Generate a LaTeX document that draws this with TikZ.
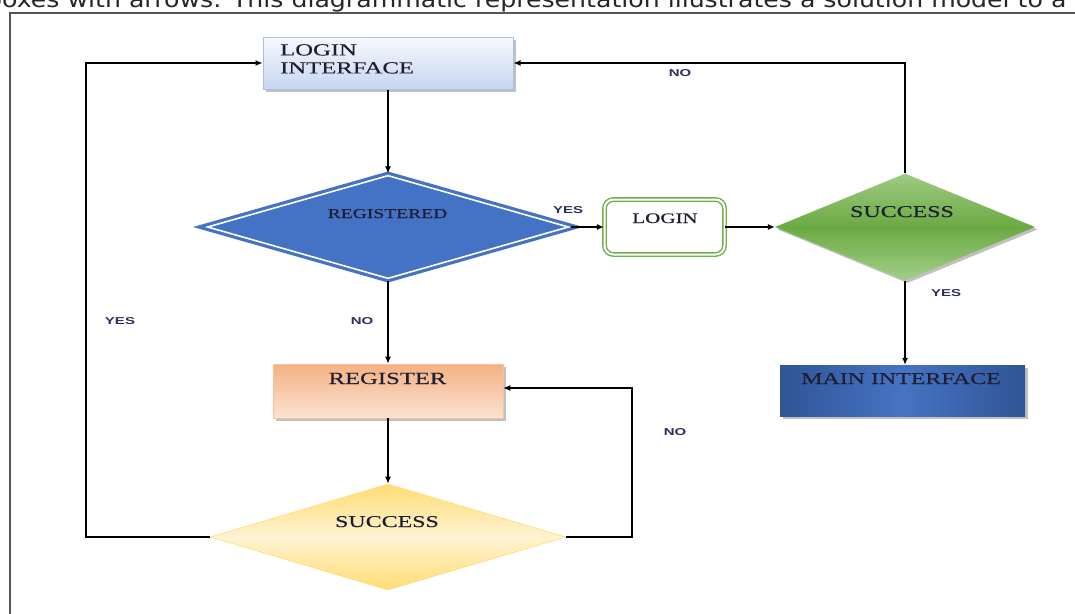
\documentclass[tikz,border=0pt]{standalone}
\usepackage{fontspec}
\setmainfont[FakeStretch=1.45,FakeBold=0.35]{Liberation Serif}
\newfontfamily\lblfont[FakeStretch=1.5]{Liberation Sans}
\newfontfamily\topfont[FakeStretch=1.145]{DejaVu Sans}
\usetikzlibrary{shapes.geometric,arrows.meta,shadows}
\definecolor{liborder}{HTML}{A9C0E4}
\definecolor{litop}{HTML}{F7F9FD}
\definecolor{libot}{HTML}{C6D6F0}
\definecolor{regblue}{HTML}{4472C4}
\definecolor{lgreen}{HTML}{70AD47}
\definecolor{gtop}{HTML}{9FCB83}
\definecolor{gmid}{HTML}{6BAA42}
\definecolor{gbot}{HTML}{A3CE88}
\definecolor{mdark}{HTML}{2F5597}
\definecolor{mlight}{HTML}{4673C3}
\definecolor{otop}{HTML}{F4B183}
\definecolor{obot}{HTML}{FBE2D2}
\definecolor{yedge}{HTML}{FFDC73}
\definecolor{ymid}{HTML}{FFF3D3}
\definecolor{txt}{HTML}{1E1E32}
\definecolor{lbl}{HTML}{2B2F5C}
\definecolor{framec}{HTML}{555555}
\tikzset{
  shad/.style={drop shadow={shadow xshift=2.5pt,shadow yshift=-2.5pt,opacity=0.35,fill=black!70}},
  boxtext/.style={anchor=base,inner sep=0pt,text=txt},
  lab/.style={font=\lblfont\bfseries\fontsize{10}{12}\selectfont,text=lbl,inner sep=0pt},
  arr/.style={draw=black,line width=1.2pt,-{Latex[length=7pt,width=6pt]}},
}
\begin{document}
\begin{tikzpicture}[x=1pt,y=-1pt]
\useasboundingbox (0,0) rectangle (1075,613);
\clip (0,0) rectangle (1075,613);
\fill[white] (0,0) rectangle (1075,613);
% cut-off caption line at top
\node[anchor=base west,inner sep=0pt,font=\topfont\fontsize{22}{26}\selectfont,text=black!85] (cap) at (-14,8) {boxes with arrows. This diagrammatic representation illustrates a solution model to a};
% frame
\draw[framec,line width=1.6pt] (10,640) -- (10,13) -- (1090,13);
% shapes
\node[draw=liborder,line width=1pt,top color=litop,bottom color=libot,minimum width=250pt,minimum height=52pt,shad] (li) at (388,63) {};
\node[diamond,draw=regblue,fill=regblue,line width=3.2pt,double=white,double distance=1.6pt,minimum width=362pt,minimum height=104pt,inner sep=0pt] (reg) at (388,227) {};
\node[draw=lgreen,fill=white,line width=1.4pt,double=white,double distance=2pt,rounded corners=9pt,minimum width=120pt,minimum height=55pt] (login) at (664.5,227) {};
\node[diamond,top color=gtop,bottom color=gbot,middle color=gmid,minimum width=260pt,minimum height=107pt,inner sep=0pt,shad] (gs) at (905,227) {};
\node[left color=mdark,right color=mdark,middle color=mlight,minimum width=245pt,minimum height=51pt,shad] (main) at (902.5,390.5) {};
\node[draw=otop!80,line width=0.6pt,top color=otop,bottom color=obot,minimum width=230pt,minimum height=54pt,shad] (register) at (388,391) {};
\node[diamond,draw=yedge,line width=0.6pt,top color=yedge,bottom color=yedge,middle color=ymid,minimum width=355pt,minimum height=106pt,inner sep=0pt] (ys) at (388,537) {};
% texts
\node[anchor=north west,inner sep=0pt,align=left,text=txt,font=\fontsize{17}{18}\selectfont] (tli) at (280,44) {LOGIN\\INTERFACE};
\node[boxtext,font=\fontsize{13.5}{15}\selectfont] (treg) at (387.5,218) {REGISTERED};
\node[boxtext,font=\fontsize{14.5}{16}\selectfont] (tlogin) at (665,223) {LOGIN};
\node[boxtext,font=\fontsize{16.5}{18}\selectfont] (tgs) at (902,217) {SUCCESS};
\node[boxtext,font=\fontsize{16.5}{18}\selectfont] (tmain) at (901,384) {MAIN INTERFACE};
\node[boxtext,font=\fontsize{17}{19}\selectfont] (tregister) at (387.5,384) {REGISTER};
\node[boxtext,font=\fontsize{16.5}{18}\selectfont] (tys) at (387,527) {SUCCESS};
% helper coordinates
\coordinate (rx) at (632,0);
\coordinate (lx) at (86,0);
% connectors
\draw[arr] (li.south) -- (reg.north);
\draw[arr] (reg.east) -- (login.west);
\draw[arr] (login.east) -- (gs.west);
\draw[arr] (gs.north) |- (li.east);
\draw[arr] (gs.south) -- (gs.south |- main.north);
\draw[arr] (reg.south) -- (register.north);
\draw[arr] (register.south) -- (ys.north);
\draw[arr] (ys.east) -| ([yshift=3pt]rx |- register.east) -- ([yshift=3pt]register.east);
\draw[arr] (ys.west) -| (lx |- li.west) -- (li.west);
% labels
\node[lab] (lyes1) at (568,210) {YES};
\node[lab] (lno1) at (680,73) {NO};
\node[lab] (lyes2) at (946,293) {YES};
\node[lab] (lno2) at (362,321) {NO};
\node[lab] (lyes3) at (120,321) {YES};
\node[lab] (lno3) at (675,432) {NO};
\end{tikzpicture}
\end{document}
